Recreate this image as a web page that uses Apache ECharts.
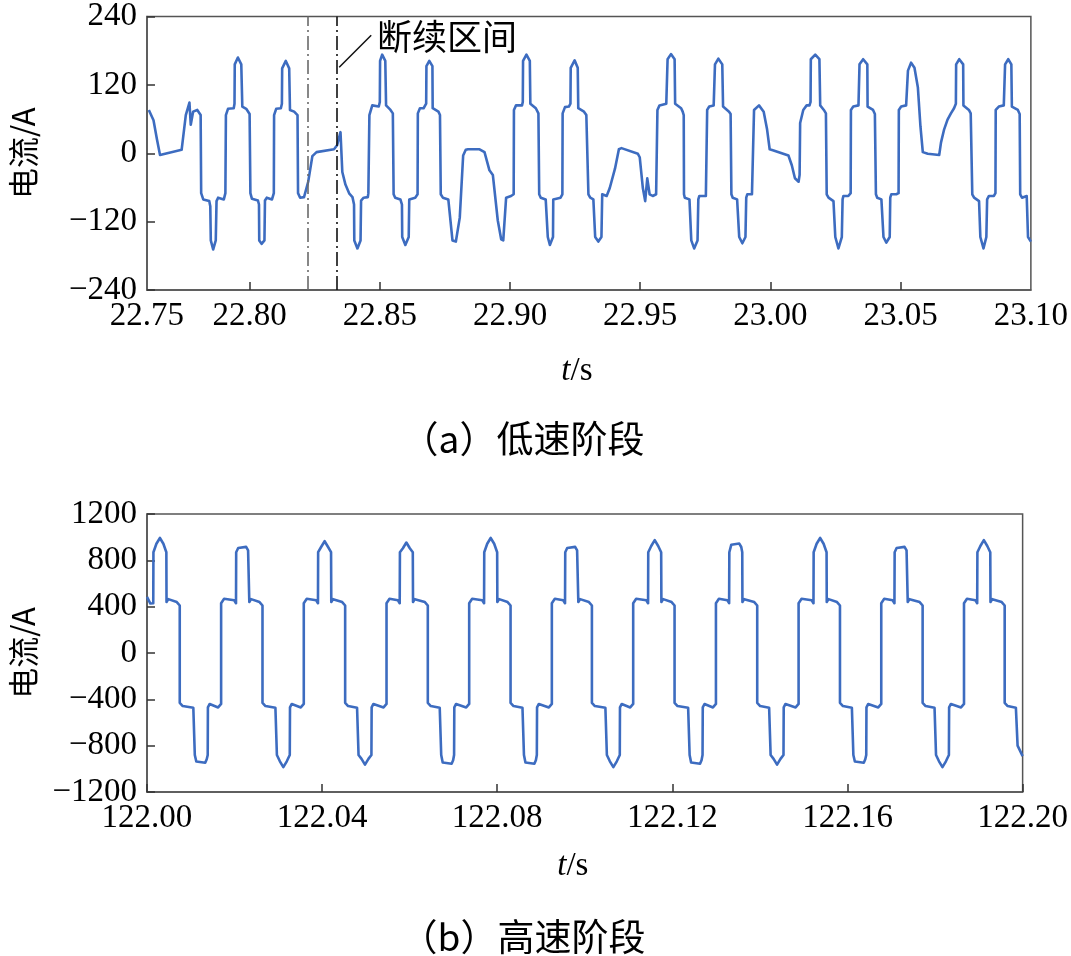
<!DOCTYPE html>
<html>
<head>
<meta charset="utf-8">
<script src="https://cdn.jsdelivr.net/npm/echarts@6/dist/echarts.min.js"></script>
<style>
html,body{margin:0;padding:0;background:#fff;}
#chart{width:1071px;height:956px;}
</style>
</head>
<body>
<div id="chart"></div>
<script>
// ---------- data ----------
// (a) low speed stage: [time s, current A]
const lowSpeedWave = [
[22.7613,76],[22.7631,58],[22.7644,25],[22.7656,-3],[22.7739,6],[22.7755,67],[22.7769,89],[22.7774,50],[22.7783,73],[22.7799,76],
[22.7812,67],[22.7814,-70],[22.7822,-81],[22.7845,-84],[22.7849,-93],[22.7851,-153],[22.7860,-169],[22.7870,-153],[22.7873,-84],[22.7879,-78],
[22.7901,-81],[22.7907,-70],[22.7909,67],[22.7917,78],[22.7939,79],[22.7942,87],[22.7943,156],[22.7955,168],[22.7968,156],[22.7972,82],
[22.7987,78],[22.8000,69],[22.8003,-70],[22.8009,-80],[22.8032,-83],[22.8036,-90],[22.8037,-153],[22.8046,-159],[22.8057,-153],[22.8059,-83],
[22.8066,-78],[22.8086,-81],[22.8093,-70],[22.8094,67],[22.8102,78],[22.8120,79],[22.8124,87],[22.8125,149],[22.8139,162],[22.8152,149],
[22.8155,76],[22.8171,73],[22.8184,67],[22.8186,-70],[22.8194,-78],[22.8209,-77],[22.8225,-50],[22.8241,-5],[22.8257,2],[22.8324,7],
[22.8336,14],[22.8349,37],[22.8356,-33],[22.8368,-55],[22.8383,-71],[22.8395,-77],[22.8401,-90],[22.8402,-153],[22.8414,-167],[22.8426,-153],
[22.8428,-83],[22.8438,-78],[22.8454,-77],[22.8456,-70],[22.8460,67],[22.8471,84],[22.8496,82],[22.8500,90],[22.8501,162],[22.8509,173],
[22.8521,162],[22.8524,84],[22.8541,76],[22.8550,70],[22.8553,-72],[22.8559,-78],[22.8579,-81],[22.8585,-90],[22.8586,-147],[22.8598,-161],
[22.8611,-147],[22.8613,-81],[22.8616,-78],[22.8636,-78],[22.8645,-72],[22.8646,70],[22.8654,79],[22.8668,79],[22.8678,87],[22.8679,153],
[22.8690,162],[22.8702,153],[22.8703,79],[22.8725,73],[22.8731,67],[22.8734,-72],[22.8742,-78],[22.8763,-81],[22.8769,-84],[22.8779,-153],
[22.8792,-155],[22.8807,-113],[22.8820,-4],[22.8830,6],[22.8839,7],[22.8883,7],[22.8902,2],[22.8921,-30],[22.8934,-38],[22.8953,-118],
[22.8966,-151],[22.8974,-153],[22.8985,-78],[22.9004,-75],[22.9014,-72],[22.9015,76],[22.9023,84],[22.9046,84],[22.9049,90],[22.9050,162],
[22.9063,173],[22.9076,162],[22.9078,87],[22.9099,79],[22.9109,70],[22.9112,-72],[22.9118,-78],[22.9137,-81],[22.9144,-84],[22.9145,-147],
[22.9153,-161],[22.9165,-147],[22.9166,-81],[22.9173,-78],[22.9194,-78],[22.9201,-72],[22.9202,70],[22.9211,81],[22.9226,82],[22.9232,87],
[22.9233,150],[22.9248,163],[22.9260,150],[22.9262,79],[22.9284,73],[22.9293,67],[22.9301,-72],[22.9308,-78],[22.9320,-81],[22.9326,-84],
[22.9327,-147],[22.9339,-155],[22.9351,-147],[22.9354,-72],[22.9358,-75],[22.9371,-75],[22.9383,-61],[22.9403,-27],[22.9418,7],[22.9428,9],
[22.9491,-1],[22.9498,-7],[22.9510,-61],[22.9519,-84],[22.9527,-44],[22.9536,-72],[22.9548,-75],[22.9561,-72],[22.9565,-70],[22.9566,76],
[22.9574,84],[22.9600,87],[22.9604,90],[22.9605,165],[22.9618,174],[22.9632,165],[22.9634,87],[22.9657,79],[22.9663,73],[22.9667,67],
[22.9668,-72],[22.9671,-78],[22.9689,-81],[22.9695,-84],[22.9696,-153],[22.9707,-167],[22.9720,-153],[22.9723,-81],[22.9727,-75],[22.9752,-75],
[22.9756,-72],[22.9757,76],[22.9765,82],[22.9782,84],[22.9786,87],[22.9787,156],[22.9800,166],[22.9815,156],[22.9818,82],[22.9841,73],
[22.9847,69],[22.9849,67],[22.9850,-72],[22.9855,-78],[22.9872,-81],[22.9879,-84],[22.9880,-147],[22.9892,-158],[22.9904,-147],[22.9907,-78],
[22.9911,-72],[22.9929,-72],[22.9936,-70],[22.9937,76],[22.9956,84],[22.9974,73],[22.9987,42],[22.9997,7],[23.0012,5],[23.0069,-4],
[23.0082,-21],[23.0094,-44],[23.0108,-50],[23.0112,-38],[23.0114,53],[23.0126,76],[23.0139,84],[23.0150,84],[23.0154,90],[23.0155,165],
[23.0172,173],[23.0188,165],[23.0191,84],[23.0205,76],[23.0213,70],[23.0216,-72],[23.0223,-78],[23.0242,-84],[23.0248,-87],[23.0249,-147],
[23.0261,-167],[23.0274,-147],[23.0277,-81],[23.0280,-75],[23.0299,-75],[23.0308,-70],[23.0309,76],[23.0318,82],[23.0338,84],[23.0341,87],
[23.0342,156],[23.0356,165],[23.0372,156],[23.0373,82],[23.0394,76],[23.0401,69],[23.0405,-72],[23.0410,-78],[23.0426,-81],[23.0433,-84],
[23.0434,-147],[23.0445,-157],[23.0458,-147],[23.0460,-78],[23.0464,-72],[23.0483,-72],[23.0492,-70],[23.0493,76],[23.0502,82],[23.0521,84],
[23.0528,145],[23.0540,159],[23.0553,150],[23.0566,116],[23.0576,47],[23.0585,2],[23.0604,-1],[23.0648,-3],[23.0655,19],[23.0667,42],
[23.0680,59],[23.0693,70],[23.0705,79],[23.0712,87],[23.0713,156],[23.0725,165],[23.0740,156],[23.0741,84],[23.0762,76],[23.0769,70],
[23.0775,-72],[23.0782,-78],[23.0801,-84],[23.0805,-87],[23.0806,-147],[23.0818,-167],[23.0829,-147],[23.0832,-81],[23.0839,-75],[23.0858,-75],
[23.0864,-70],[23.0865,76],[23.0877,82],[23.0896,84],[23.0900,87],[23.0901,156],[23.0913,165],[23.0925,156],[23.0927,82],[23.0950,76],
[23.0957,69],[23.0959,-72],[23.0966,-78],[23.0984,-75],[23.0988,-72],[23.0989,-147],[23.1000,-155]
];

// (b) high speed stage: [time s, current A]
const highSpeedWave = [
[122.0000,484],[122.00077,427],[122.00143,430],[122.00147,870],[122.00215,943],[122.00295,993],[122.00374,943],[122.00442,870],[122.00446,440],[122.00487,465],[122.00680,440],[122.00748,410],[122.00748,-430],
[122.00816,-458],[122.01058,-472],[122.01088,-480],[122.01092,-880],[122.01126,-937],[122.01330,-947],[122.01364,-917],[122.01387,-880],[122.01391,-470],[122.01432,-440],[122.01625,-470],[122.01693,-440],[122.01693,430],
[122.01761,468],[122.01992,455],[122.02033,430],[122.02037,870],[122.02083,906],[122.02264,916],[122.02309,886],[122.02332,870],[122.02337,440],[122.02377,465],[122.02570,440],[122.02638,410],[122.02638,-430],
[122.02706,-458],[122.02933,-472],[122.02962,-480],[122.02967,-880],[122.03035,-935],[122.03114,-985],[122.03193,-935],[122.03261,-880],[122.03266,-470],[122.03307,-440],[122.03513,-470],[122.03581,-440],[122.03581,430],
[122.03649,468],[122.03864,455],[122.03905,430],[122.03909,870],[122.03977,915],[122.04057,965],[122.04136,915],[122.04204,870],[122.04209,440],[122.04249,465],[122.04458,440],[122.04526,410],[122.04526,-430],
[122.04594,-458],[122.04798,-472],[122.04827,-480],[122.04832,-880],[122.04900,-914],[122.04979,-964],[122.05058,-914],[122.05126,-880],[122.05131,-470],[122.05172,-440],[122.05403,-470],[122.05471,-440],[122.05471,430],
[122.05539,468],[122.05731,455],[122.05772,430],[122.05777,870],[122.05845,904],[122.05924,954],[122.06003,904],[122.06071,870],[122.06076,440],[122.06117,465],[122.06346,440],[122.06414,410],[122.06414,-430],
[122.06482,-458],[122.06686,-472],[122.06715,-480],[122.06720,-880],[122.06754,-946],[122.06958,-956],[122.06992,-926],[122.07014,-880],[122.07019,-470],[122.07060,-440],[122.07291,-470],[122.07359,-440],[122.07359,430],
[122.07427,468],[122.07658,455],[122.07699,430],[122.07703,870],[122.07771,943],[122.07850,993],[122.07930,943],[122.07998,870],[122.08002,440],[122.08043,465],[122.08236,440],[122.08304,410],[122.08304,-430],
[122.08372,-458],[122.08576,-472],[122.08605,-480],[122.08610,-880],[122.08644,-946],[122.08848,-956],[122.08882,-926],[122.08904,-880],[122.08909,-470],[122.08950,-440],[122.09179,-470],[122.09247,-440],[122.09247,430],
[122.09315,468],[122.09507,455],[122.09548,430],[122.09553,870],[122.09598,906],[122.09779,916],[122.09824,886],[122.09847,870],[122.09852,440],[122.09892,465],[122.10094,440],[122.10162,410],[122.10162,-430],
[122.10230,-458],[122.10470,-472],[122.10500,-480],[122.10504,-880],[122.10572,-935],[122.10652,-985],[122.10731,-935],[122.10799,-880],[122.10803,-470],[122.10844,-440],[122.11037,-470],[122.11105,-440],[122.11105,430],
[122.11173,468],[122.11404,455],[122.11445,430],[122.11449,870],[122.11517,924],[122.11597,974],[122.11676,924],[122.11744,870],[122.11749,440],[122.11789,465],[122.11982,440],[122.12050,410],[122.12050,-430],
[122.12118,-458],[122.12360,-472],[122.12390,-480],[122.12394,-880],[122.12428,-946],[122.12632,-956],[122.12666,-926],[122.12689,-880],[122.12694,-470],[122.12734,-440],[122.12927,-470],[122.12995,-440],[122.12995,430],
[122.13063,468],[122.13256,455],[122.13296,430],[122.13301,870],[122.13346,935],[122.13528,945],[122.13573,915],[122.13596,870],[122.13600,440],[122.13641,465],[122.13870,440],[122.13938,410],[122.13938,-430],
[122.14006,-458],[122.14210,-472],[122.14239,-480],[122.14244,-880],[122.14312,-914],[122.14391,-964],[122.14470,-914],[122.14538,-880],[122.14543,-470],[122.14584,-440],[122.14815,-470],[122.14883,-440],[122.14883,430],
[122.14951,468],[122.15182,455],[122.15223,430],[122.15227,870],[122.15295,943],[122.15375,993],[122.15454,943],[122.15522,870],[122.15526,440],[122.15567,465],[122.15760,440],[122.15828,410],[122.15828,-430],
[122.15896,-458],[122.16100,-472],[122.16129,-480],[122.16134,-880],[122.16168,-937],[122.16372,-947],[122.16406,-917],[122.16428,-880],[122.16433,-470],[122.16474,-440],[122.16703,-470],[122.16771,-440],[122.16771,430],
[122.16839,468],[122.17031,455],[122.17072,430],[122.17077,870],[122.17122,906],[122.17303,916],[122.17349,886],[122.17371,870],[122.17376,440],[122.17417,465],[122.17648,440],[122.17716,410],[122.17716,-430],
[122.17784,-458],[122.17988,-472],[122.18017,-480],[122.18022,-880],[122.18090,-935],[122.18169,-985],[122.18248,-935],[122.18316,-880],[122.18321,-470],[122.18362,-440],[122.18593,-470],[122.18661,-440],[122.18661,430],
[122.18729,468],[122.18921,455],[122.18962,430],[122.18967,870],[122.19035,924],[122.19114,974],[122.19193,924],[122.19261,870],[122.19266,440],[122.19307,465],[122.19522,440],[122.19590,410],[122.19590,-430],
[122.19658,-458],[122.19846,-472],[122.19880,-480],[122.19885,-800],[122.20000,-890]
];

// axis ranges / ticks (the low-speed axis starts just after 22.75; its first label reads 22.75 as printed)
const lowTimeRange = [22.7606, 23.10];
const lowTimeLabelValues = [22.7606, 22.80, 22.85, 22.90, 22.95, 23.00, 23.05, 23.10];
const lowTimeLabelText   = ['22.75', '22.80', '22.85', '22.90', '22.95', '23.00', '23.05', '23.10'];
const lowTimeTickValues  = [22.80, 22.85, 22.90, 22.95, 23.00, 23.05];
const lowCurrentTicks  = [-240, -120, 0, 120, 240];
const highTimeTicks = [122.00, 122.04, 122.08, 122.12, 122.16, 122.20];
const highCurrentTicks = [-1200, -800, -400, 0, 400, 800, 1200];

// discontinuous interval markers and annotation
const gapStart = 22.8224;
const gapEnd = 22.8336;
const gapLeader = [[22.8344, 151], [22.8467, 207]];
const gapLabelAt = [22.8489, 204];
const gapLabel = '断续区间';
const captions = ['（a）低速阶段', '（b）高速阶段'];
const yName = '电流/A';

// ---------- chart ----------
const NUM = '"Liberation Serif", "Times New Roman", serif';
const CJK = '"Noto Sans CJK SC", sans-serif';
const LINE = '#3d6cc0';
const FRAME = '#555';

function fmtNum(v, d) {
  const s = d === undefined ? String(v) : v.toFixed(d);
  return s.replace('-', '\u2212');
}
const axisLineCfg = { show: true, onZero: false, lineStyle: { color: FRAME, width: 1.5 } };
const tickCfg = { show: true, inside: true, length: 8, lineStyle: { color: '#333', width: 1.5 } };
function nameCfg(gap) {
  return {
    name: '{i|t}/s', nameLocation: 'middle', nameGap: gap,
    nameTextStyle: { color: '#000', fontFamily: NUM, fontSize: 33, padding: [0, 24, 0, 0],
      rich: { i: { fontFamily: NUM, fontSize: 33, fontStyle: 'italic', color: '#000' } } }
  };
}
function yAxisCfg(idx, ticks) {
  return {
    type: 'value', gridIndex: idx,
    min: ticks[0], max: ticks[ticks.length - 1],
    interval: ticks[1] - ticks[0],
    axisLine: axisLineCfg, axisTick: tickCfg,
    axisLabel: { color: '#000', fontFamily: NUM, fontSize: 33, margin: 10, formatter: v => fmtNum(v) },
    splitLine: { show: false },
    name: yName, nameLocation: 'middle', nameGap: 108,
    nameTextStyle: { color: '#000', fontFamily: CJK, fontSize: 31 }
  };
}

const xLow = Object.assign({
  type: 'value', gridIndex: 0,
  min: lowTimeRange[0], max: lowTimeRange[1],
  axisLine: axisLineCfg,
  axisTick: Object.assign({ customValues: lowTimeTickValues }, tickCfg),
  axisLabel: {
    customValues: lowTimeLabelValues,
    color: '#000', fontFamily: NUM, fontSize: 33, margin: 10,
    formatter: function (v) {
      let best = 0;
      lowTimeLabelValues.forEach((x, i) => { if (Math.abs(x - v) < Math.abs(lowTimeLabelValues[best] - v)) best = i; });
      return lowTimeLabelText[best];
    }
  },
  splitLine: { show: false }
}, nameCfg(65));

const xHigh = Object.assign({
  type: 'value', gridIndex: 1,
  min: highTimeTicks[0], max: highTimeTicks[highTimeTicks.length - 1],
  interval: 0.04,
  axisLine: axisLineCfg, axisTick: tickCfg,
  axisLabel: { color: '#000', fontFamily: NUM, fontSize: 33, margin: 10, formatter: v => fmtNum(v, 2) },
  splitLine: { show: false }
}, nameCfg(58));

const dashDot = [14, 4, 2, 4];
const chart = echarts.init(document.getElementById('chart'), null, { renderer: 'canvas' });
chart.setOption({
  animation: false,
  backgroundColor: '#fff',
  grid: [
    { left: 143, top: 10, width: 891, height: 280, show: true, borderColor: FRAME, borderWidth: 1.5, backgroundColor: 'transparent' },
    { left: 143, top: 514, width: 883, height: 278, show: true, borderColor: FRAME, borderWidth: 1.5, backgroundColor: 'transparent' }
  ],
  xAxis: [xLow, xHigh],
  yAxis: [yAxisCfg(0, lowCurrentTicks), yAxisCfg(1, highCurrentTicks)],
  series: [
    {
      type: 'line', xAxisIndex: 0, yAxisIndex: 0, data: lowSpeedWave,
      showSymbol: false, symbol: 'none', clip: true,
      lineStyle: { color: LINE, width: 2.6, join: 'round' },
      markLine: {
        silent: true, symbol: ['none', 'none'], label: { show: false },
        data: [
          [ { coord: [gapStart, lowCurrentTicks[0]], lineStyle: { color: '#6a6a6a', width: 1.6, type: dashDot } },
            { coord: [gapStart, lowCurrentTicks[lowCurrentTicks.length - 1]] } ],
          [ { coord: [gapEnd, lowCurrentTicks[0]], lineStyle: { color: '#111', width: 1.6, type: dashDot } },
            { coord: [gapEnd, lowCurrentTicks[lowCurrentTicks.length - 1]] } ],
          [ { coord: gapLeader[0], lineStyle: { color: '#111', width: 1.5, type: 'solid' } }, { coord: gapLeader[1] } ]
        ]
      },
      markPoint: {
        silent: true, symbol: 'circle', symbolSize: 0,
        data: [{ coord: gapLabelAt, value: gapLabel }],
        label: { show: true, position: 'right', distance: 0, formatter: gapLabel,
          fontFamily: CJK, fontSize: 35, color: '#000' }
      }
    },
    {
      type: 'line', xAxisIndex: 1, yAxisIndex: 1, data: highSpeedWave,
      showSymbol: false, symbol: 'none', clip: true,
      lineStyle: { color: LINE, width: 2.6, join: 'round' }
    }
  ],
  graphic: [
    { type: 'text', x: 523, y: 439, style: { text: captions[0], align: 'center', verticalAlign: 'middle', font: '37px ' + CJK, fill: '#000' } },
    { type: 'text', x: 523, y: 937, style: { text: captions[1], align: 'center', verticalAlign: 'middle', font: '37px ' + CJK, fill: '#000' } }
  ]
});
</script>
</body>
</html>
